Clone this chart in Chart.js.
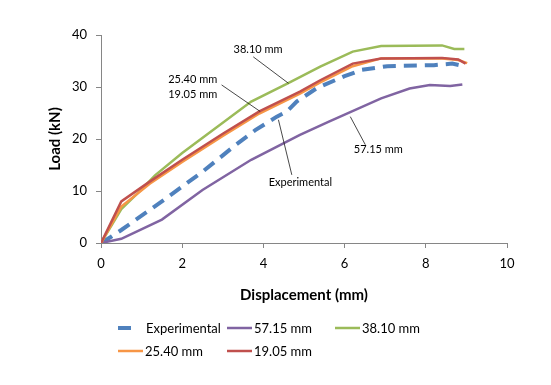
<!DOCTYPE html>
<html>
<head>
<meta charset="utf-8">
<script src="https://cdn.jsdelivr.net/npm/chart.js@4.4.1/dist/chart.umd.min.js"></script>
<style>
html, body { margin: 0; padding: 0; background: #fff; }
#wrap { width: 551px; height: 385px; }
</style>
</head>
<body>
<div id="wrap"><canvas id="loadChart" width="551" height="385"></canvas></div>
<script>
// load vs displacement
const seriesNames = ["Experimental", "57.15 mm", "38.10 mm", "25.40 mm", "19.05 mm"];

const expX = [0, 0.25, 0.5, 1.5, 2.5, 3.34, 3.8, 4.33, 4.58, 4.82, 5.32, 6.0, 6.43, 7.05, 8.2, 8.65, 9.0];
const expY = [0, 1.2, 2.5, 8.0, 13.7, 19.0, 21.7, 24.3, 25.3, 27.2, 29.8, 32.1, 33.3, 34.0, 34.2, 34.5, 33.9];

const p57X = [0, 0.5, 1.5, 2.5, 3.7, 4.9, 5.6, 6.9, 7.6, 8.1, 8.6, 8.9];
const p57Y = [0, 0.8, 4.5, 10.2, 16.0, 20.8, 23.3, 27.8, 29.7, 30.4, 30.2, 30.5];

const p38X = [0, 0.5, 1.0, 1.33, 2.0, 3.7, 4.6, 5.4, 6.2, 6.9, 8.4, 8.7, 8.95];
const p38Y = [0, 6.5, 10.3, 13.0, 17.3, 27.2, 30.7, 33.9, 36.8, 37.9, 38.0, 37.3, 37.3];

const p25X = [0, 0.5, 1.2, 2.0, 3.0, 3.9, 4.9, 5.4, 6.2, 6.9, 8.4, 8.8, 9.02];
const p25Y = [0, 7.0, 11.4, 15.6, 20.6, 24.9, 28.7, 30.9, 34.0, 35.5, 35.5, 35.2, 34.6];

const p19X = [0, 0.5, 1.2, 2.0, 3.0, 3.9, 4.9, 5.4, 6.2, 6.9, 8.4, 8.8, 8.98];
const p19Y = [0, 8.0, 11.8, 16.0, 21.0, 25.3, 29.1, 31.3, 34.5, 35.5, 35.6, 35.3, 34.5];

const xTicks = [0, 2, 4, 6, 8, 10];
const yTicks = [0, 10, 20, 30, 40];

function pairs(xs, ys) {
    return xs.map((x, i) => ({ x: x, y: ys[i] }));
}

const FONT = "Lato, 'Open Sans', sans-serif";

// callouts: text anchor + leader line, all in data units
const notes = [
    { text: ["38.10 mm"], at: [3.87, 37.3], from: [3.75, 35.8], to: [4.62, 30.7] },
    { text: ["25.40 mm", "19.05 mm"], at: [2.26, 31.5], from: [2.97, 30.4], to: [3.92, 25.3] },
    { text: ["Experimental"], at: [4.91, 11.6], from: [4.7, 13.1], to: [4.37, 23.7] },
    { text: ["57.15 mm"], at: [6.83, 17.9], from: [6.51, 18.9], to: [6.14, 24.3] }
];

// legend slots in pixels, same order as the datasets
const legendSlots = [[118, 328], [227, 328], [335, 328], [118, 351], [227, 351]];

const overlay = {
    id: "overlay",
    afterDraw(chart) {
        const ctx = chart.ctx;
        const xs = chart.scales.x;
        const ys = chart.scales.y;

        ctx.save();

        // leader lines
        ctx.strokeStyle = "#1a1a1a";
        ctx.lineWidth = 0.8;
        notes.forEach(n => {
            ctx.beginPath();
            ctx.moveTo(xs.getPixelForValue(n.from[0]), ys.getPixelForValue(n.from[1]));
            ctx.lineTo(xs.getPixelForValue(n.to[0]), ys.getPixelForValue(n.to[1]));
            ctx.stroke();
        });

        // callout text
        ctx.fillStyle = "#000";
        ctx.font = "11px " + FONT;
        ctx.textAlign = "center";
        ctx.textBaseline = "middle";
        notes.forEach(n => {
            const px = xs.getPixelForValue(n.at[0]);
            const py = ys.getPixelForValue(n.at[1]);
            n.text.forEach((t, i) => ctx.fillText(t, px, py + i * 15));
        });

        // legend
        ctx.font = "13px " + FONT;
        ctx.textAlign = "left";
        chart.data.datasets.forEach((ds, i) => {
            const [lx, ly] = legendSlots[i];
            ctx.strokeStyle = ds.borderColor;
            ctx.lineWidth = ds.borderWidth;
            ctx.setLineDash([]);
            const len = ds.borderDash ? ds.borderDash[0] : 25;
            ctx.beginPath();
            ctx.moveTo(lx, ly);
            ctx.lineTo(lx + len, ly);
            ctx.stroke();
            ctx.fillStyle = "#000";
            ctx.fillText(ds.label, lx + (ds.borderDash ? 28 : 27), ly + 1);
        });

        ctx.restore();
    }
};

const axisGray = "#868686";

new Chart(document.getElementById("loadChart"), {
    type: "scatter",
    data: {
        datasets: [
            { label: seriesNames[0], data: pairs(expX, expY), borderColor: "#4F81BD", backgroundColor: "#4F81BD",
              borderWidth: 4, borderDash: [13, 8], order: 4 },
            { label: seriesNames[1], data: pairs(p57X, p57Y), borderColor: "#8064A2", backgroundColor: "#8064A2",
              borderWidth: 2.5, order: 3 },
            { label: seriesNames[2], data: pairs(p38X, p38Y), borderColor: "#9BBB59", backgroundColor: "#9BBB59",
              borderWidth: 2.5, order: 2 },
            { label: seriesNames[3], data: pairs(p25X, p25Y), borderColor: "#F79646", backgroundColor: "#F79646",
              borderWidth: 2.5, order: 1 },
            { label: seriesNames[4], data: pairs(p19X, p19Y), borderColor: "#C0504D", backgroundColor: "#C0504D",
              borderWidth: 2.5, order: 0 }
        ].map(ds => Object.assign(ds, { showLine: true, pointRadius: 0, tension: 0 }))
    },
    options: {
        responsive: false,
        animation: false,
        devicePixelRatio: 1,
        layout: { padding: { left: 0, top: 35, right: 44, bottom: 80 } },
        plugins: {
            legend: { display: false },
            tooltip: { enabled: false }
        },
        scales: {
            x: {
                type: "linear",
                min: xTicks[0],
                max: xTicks[xTicks.length - 1],
                afterBuildTicks: s => { s.ticks = xTicks.map(v => ({ value: v })); },
                afterFit: s => { s.height = 62; },
                grid: { drawOnChartArea: false, drawTicks: true, tickLength: 5, color: axisGray },
                border: { color: axisGray, width: 1 },
                ticks: { color: "#000", padding: 8, font: { family: FONT, size: 13 } },
                title: {
                    display: true,
                    text: "Displacement (mm)",
                    color: "#000",
                    font: { family: FONT, size: 15, weight: "bold" },
                    padding: { top: 0, bottom: 1 }
                }
            },
            y: {
                type: "linear",
                min: yTicks[0],
                max: yTicks[yTicks.length - 1],
                afterBuildTicks: s => { s.ticks = yTicks.map(v => ({ value: v })); },
                afterFit: s => { s.width = 101; },
                grid: { drawOnChartArea: false, drawTicks: true, tickLength: 5, color: axisGray },
                border: { color: axisGray, width: 1 },
                ticks: { color: "#000", padding: 9, font: { family: FONT, size: 13 } },
                title: {
                    display: true,
                    text: "Load (kN)",
                    color: "#000",
                    font: { family: FONT, size: 15, weight: "bold" },
                    padding: { top: 46, bottom: 0 }
                }
            }
        }
    },
    plugins: [overlay]
});
</script>
</body>
</html>
